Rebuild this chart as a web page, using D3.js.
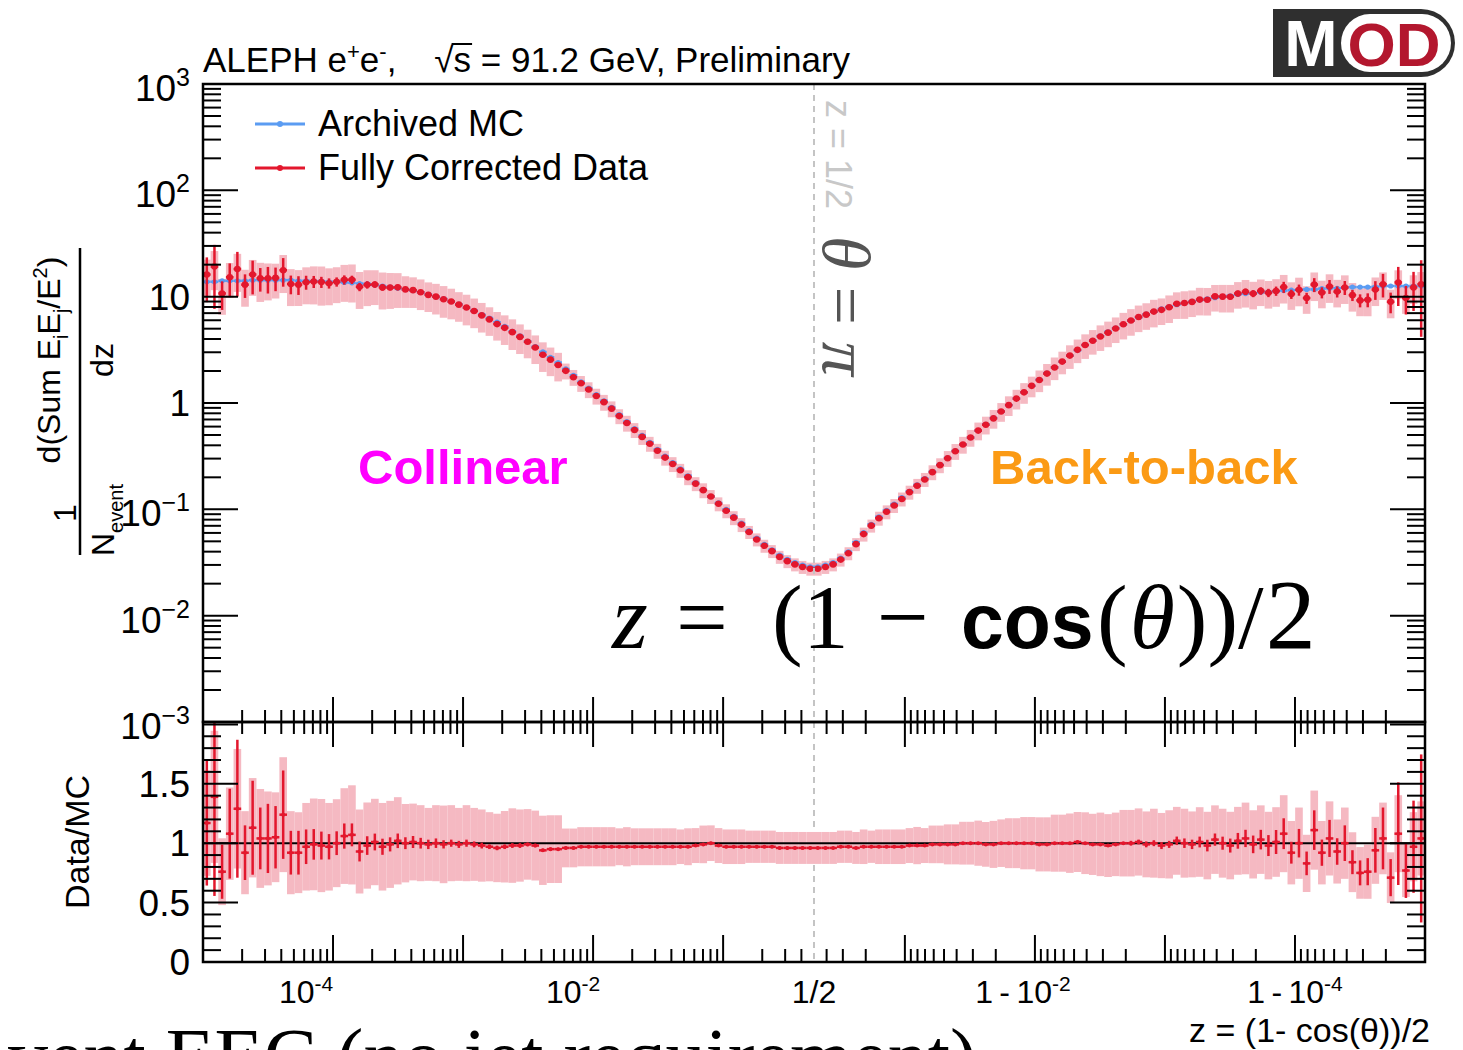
<!DOCTYPE html>
<html>
<head>
<meta charset="utf-8">
<script src="https://cdn.jsdelivr.net/npm/d3@7"></script>
<style>
  body { margin: 0; background: #ffffff; }
</style>
</head>
<body>
<svg id="chart" width="1463" height="1050"></svg>
<script>
////////////////////////////////////////////////////////////////////////
// Data.
// 80 log-spaced bins per half.
// Left half: z from 1e-5 up to 1/2.  Right half: 1 - z from 1/2 down to 1e-5.

// Archived MC, (1/N) dSum/dz
let mcLeft = [
  13.8, 13.8, 14.1, 14.1, 14.1, 14.1, 14.3, 14.3, 14.3, 14.3,
  14.3, 14.3, 14.1, 14.1, 14.0, 14.0, 13.8, 13.8, 13.6, 13.5,
  13.3, 13.2, 12.9, 12.6, 12.3, 12.0, 11.7, 11.4, 11.0, 10.5,
  10.0, 9.55, 9.0, 8.5, 7.9, 7.4, 6.8, 6.3, 5.75, 5.25,
  4.73, 4.27, 3.80, 3.39, 3.02, 2.69, 2.40, 2.09, 1.82, 1.58,
  1.38, 1.20, 1.05, 0.912, 0.776, 0.668, 0.575, 0.495, 0.427, 0.367,
  0.316, 0.275, 0.240, 0.207, 0.178, 0.153, 0.132, 0.115, 0.100, 0.0861,
  0.0741, 0.0631, 0.0537, 0.0468, 0.0417, 0.0372, 0.0339, 0.0316, 0.0299, 0.0288
];
let mcRight = [
  0.0288, 0.0299, 0.0316, 0.0347, 0.0398, 0.0490, 0.0603, 0.0724, 0.0851, 0.0977,
  0.112, 0.129, 0.148, 0.170, 0.195, 0.226, 0.263, 0.305, 0.355, 0.407,
  0.473, 0.550, 0.631, 0.724, 0.832, 0.955, 1.10, 1.26, 1.45, 1.66,
  1.91, 2.16, 2.45, 2.79, 3.13, 3.51, 3.89, 4.27, 4.68, 5.07,
  5.50, 5.96, 6.38, 6.84, 7.24, 7.67, 8.04, 8.41, 8.71, 9.02,
  9.29, 9.55, 9.77, 10.0, 10.2, 10.5, 10.7, 10.8, 11.0, 11.1,
  11.2, 11.4, 11.5, 11.6, 11.7, 11.7, 11.9, 12.0, 12.0, 12.2,
  12.3, 12.3, 12.3, 12.4, 12.6, 12.6, 12.6, 12.6, 12.6, 12.6
];

// Fully corrected data / archived MC
let ratioLeft = [
  1.17, 1.39, 0.76, 1.08, 1.29, 0.92, 1.13, 1.04, 1.04, 1.05,
  1.24, 0.92, 0.92, 0.97, 0.99, 0.98, 0.97, 1.00, 1.06, 1.07,
  0.93, 0.98, 1.01, 0.97, 0.99, 1.02, 1.00, 1.01, 1.00, 0.99,
  1.00, 0.99, 1.00, 0.99, 1.00, 0.99, 0.98, 0.97, 0.96, 0.97,
  0.98, 0.98, 0.99, 0.98, 0.94, 0.95, 0.95, 0.96, 0.96, 0.97,
  0.97, 0.97, 0.97, 0.97, 0.97, 0.97, 0.97, 0.97, 0.97, 0.97,
  0.97, 0.97, 0.97, 0.97, 0.98, 0.99, 1.00, 0.98, 0.97, 0.97,
  0.97, 0.97, 0.97, 0.97, 0.97, 0.96, 0.96, 0.96, 0.96, 0.96
];
let ratioRight = [
  0.96, 0.96, 0.96, 0.97, 0.97, 0.96, 0.97, 0.97, 0.97, 0.97,
  0.97, 0.97, 0.98, 0.98, 0.98, 0.99, 0.99, 0.99, 0.99, 1.00,
  1.00, 1.00, 0.99, 0.99, 1.00, 1.00, 1.00, 1.00, 1.00, 0.99,
  0.99, 1.00, 1.00, 1.00, 1.01, 1.00, 0.99, 0.99, 0.98, 0.99,
  1.00, 1.00, 1.01, 0.99, 1.00, 0.98, 0.99, 1.02, 1.00, 0.99,
  1.01, 0.98, 1.03, 1.00, 0.98, 1.02, 1.04, 0.99, 1.03, 0.98,
  1.01, 1.08, 0.92, 1.00, 0.83, 1.11, 0.92, 1.04, 0.93, 1.00,
  0.84, 0.75, 0.76, 0.94, 1.04, 0.71, 1.08, 0.77, 0.97, 1.04
];

// relative statistical uncertainty (red bars)
let statLeft = [
  0.45, 0.60, 0.30, 0.35, 0.45, 0.25, 0.35, 0.25, 0.28, 0.25,
  0.30, 0.20, 0.20, 0.15, 0.13, 0.12, 0.11, 0.10, 0.10, 0.09,
  0.09, 0.08, 0.07, 0.07, 0.06, 0.06, 0.05, 0.05, 0.045, 0.04,
  0.04, 0.035, 0.03, 0.03, 0.03, 0.025, 0.025, 0.02, 0.02, 0.02,
  0.02, 0.02, 0.015, 0.015, 0.015, 0.015, 0.012, 0.012, 0.012, 0.012,
  0.012, 0.012, 0.012, 0.012, 0.012, 0.012, 0.012, 0.012, 0.012, 0.012,
  0.012, 0.012, 0.012, 0.012, 0.012, 0.012, 0.012, 0.012, 0.012, 0.012,
  0.012, 0.012, 0.012, 0.012, 0.012, 0.012, 0.012, 0.012, 0.012, 0.012
];
let statRight = [
  0.01, 0.01, 0.01, 0.01, 0.01, 0.01, 0.01, 0.01, 0.01, 0.01,
  0.01, 0.01, 0.01, 0.01, 0.01, 0.01, 0.01, 0.01, 0.01, 0.01,
  0.01, 0.01, 0.01, 0.01, 0.01, 0.01, 0.01, 0.01, 0.01, 0.01,
  0.01, 0.01, 0.01, 0.01, 0.01, 0.01, 0.01, 0.01, 0.01, 0.01,
  0.01, 0.02, 0.02, 0.025, 0.025, 0.03, 0.03, 0.035, 0.04, 0.04,
  0.045, 0.05, 0.05, 0.055, 0.06, 0.065, 0.07, 0.075, 0.08, 0.09,
  0.10, 0.12, 0.10, 0.12, 0.12, 0.15, 0.12, 0.15, 0.12, 0.15,
  0.12, 0.14, 0.15, 0.20, 0.25, 0.22, 0.40, 0.30, 0.40, 0.68
];

// relative systematic uncertainty (pink boxes)
let sysLeft = [
  0.38, 0.40, 0.37, 0.36, 0.39, 0.38, 0.37, 0.40, 0.38, 0.36,
  0.39, 0.38, 0.37, 0.38, 0.39, 0.40, 0.38, 0.37, 0.38, 0.39,
  0.38, 0.37, 0.36, 0.38, 0.37, 0.36, 0.33, 0.32, 0.32, 0.31,
  0.32, 0.33, 0.32, 0.31, 0.32, 0.31, 0.31, 0.30, 0.30, 0.31,
  0.32, 0.31, 0.30, 0.30, 0.31, 0.30, 0.30, 0.17, 0.17, 0.17,
  0.17, 0.17, 0.17, 0.17, 0.16, 0.17, 0.16, 0.16, 0.16, 0.16,
  0.16, 0.16, 0.15, 0.16, 0.15, 0.16, 0.15, 0.15, 0.15, 0.15,
  0.15, 0.14, 0.14, 0.14, 0.14, 0.14, 0.14, 0.14, 0.14, 0.14
];
let sysRight = [
  0.14, 0.14, 0.14, 0.14, 0.14, 0.14, 0.15, 0.14, 0.15, 0.15,
  0.15, 0.15, 0.15, 0.16, 0.15, 0.16, 0.16, 0.17, 0.17, 0.18,
  0.18, 0.19, 0.19, 0.20, 0.20, 0.21, 0.21, 0.22, 0.22, 0.23,
  0.23, 0.24, 0.24, 0.25, 0.25, 0.26, 0.26, 0.27, 0.27, 0.27,
  0.28, 0.28, 0.28, 0.28, 0.29, 0.28, 0.29, 0.28, 0.29, 0.28,
  0.29, 0.29, 0.28, 0.29, 0.29, 0.28, 0.29, 0.29, 0.28, 0.29,
  0.29, 0.30, 0.29, 0.30, 0.29, 0.30, 0.29, 0.30, 0.29, 0.30,
  0.30, 0.29, 0.30, 0.30, 0.29, 0.30, 0.30, 0.29, 0.30, 0.30
];

// axis labels
let yMainLabelVals = [1e-3, 1e-2, 1e-1, 1, 10, 1e2, 1e3];
let yMainLabelText = [["10", "\u22123"], ["10", "\u22122"], ["10", "\u22121"], ["1", ""], ["10", ""], ["10", "2"], ["10", "3"]];
let ratioLabelVals = [0, 0.5, 1, 1.5];
let ratioLabelText = ["0", "0.5", "1", "1.5"];
let xLabelVals = [1e-4, 1e-2, 0.5, 1 - 1e-2, 1 - 1e-4];
let xLabelText = [["10", "-4"], ["10", "-2"], ["1/2", ""], ["1\u2009-\u200910", "-2"], ["1\u2009-\u200910", "-4"]];

////////////////////////////////////////////////////////////////////////
// Layout and scales

let frameL = 203, frameR = 1425, frameMid = 814;
let mainTop = 84, mainBot = 722, ratioBot = 962;
let zMin = 1e-5;

let sans = "'Liberation Sans', Arial, Helvetica, sans-serif";
let serif = "'Liberation Serif', 'Times New Roman', serif";
let red = "#e3172d", blue = "#5b9cf2", pink = "#f5b9c2";

// the z axis is log in z on the left and log in (1 - z) on the right
let xLeft = d3.scaleLog().domain([zMin, 0.5]).range([frameL, frameMid]);
let xRight = d3.scaleLog().domain([0.5, zMin]).range([frameMid, frameR]);   // takes 1 - z
function xPos(z) {
  return z <= 0.5 ? xLeft(z) : xRight(1 - z);
}
let yMain = d3.scaleLog().domain([1e-3, 1e3]).range([mainBot, mainTop]);
let yRatio = d3.scaleLinear().domain([0, 2.02]).range([ratioBot, mainBot]);

let svg = d3.select("#chart");

// Build the bins from the arrays
let nBins = mcLeft.length;
let edges = d3.range(nBins + 1).map(k => zMin * Math.pow(0.5 / zMin, k / nBins));
let bins = [];
mcLeft.forEach(function(mc, i) {
  let a = edges[i], b = edges[i + 1];
  bins.push({x0: xLeft(a), x1: xLeft(b), xc: xLeft(Math.sqrt(a * b)),
    mc: mc, ratio: ratioLeft[i], stat: statLeft[i], sys: sysLeft[i]});
});
mcRight.forEach(function(mc, j) {
  let a = edges[nBins - j], b = edges[nBins - j - 1];
  bins.push({x0: xRight(a), x1: xRight(b), xc: xRight(Math.sqrt(a * b)),
    mc: mc, ratio: ratioRight[j], stat: statRight[j], sys: sysRight[j]});
});
bins.forEach(function(d) { d.data = d.mc * d.ratio; });

let defs = svg.append("defs");
defs.append("clipPath").attr("id", "clipMain").append("rect")
  .attr("x", frameL).attr("y", mainTop).attr("width", frameR - frameL).attr("height", mainBot - mainTop);
defs.append("clipPath").attr("id", "clipRatio").append("rect")
  .attr("x", frameL).attr("y", mainBot).attr("width", frameR - frameL).attr("height", ratioBot - mainBot);

////////////////////////////////////////////////////////////////////////
// Main panel

let main = svg.append("g").attr("clip-path", "url(#clipMain)");

main.selectAll(".sys").data(bins).enter().append("rect")
  .attr("x", d => d.x0).attr("width", d => d.x1 - d.x0)
  .attr("y", d => yMain(d.data * (1 + d.sys)))
  .attr("height", d => yMain(d.data * (1 - d.sys)) - yMain(d.data * (1 + d.sys)))
  .attr("fill", pink);

// z = 1/2 marker line
svg.append("line")
  .attr("x1", xPos(0.5)).attr("x2", xPos(0.5))
  .attr("y1", mainTop).attr("y2", ratioBot)
  .attr("stroke", "#c4c4c4").attr("stroke-width", 2).attr("stroke-dasharray", "6,5");

// archived MC
main.selectAll(".mcbar").data(bins).enter().append("line")
  .attr("x1", d => d.x0).attr("x2", d => d.x1)
  .attr("y1", d => yMain(d.mc)).attr("y2", d => yMain(d.mc))
  .attr("stroke", blue).attr("stroke-width", 2.5);
main.selectAll(".mcdot").data(bins).enter().append("circle")
  .attr("cx", d => d.xc).attr("cy", d => yMain(d.mc)).attr("r", 2.6)
  .attr("fill", blue);

// fully corrected data
main.selectAll(".err").data(bins).enter().append("line")
  .attr("x1", d => d.xc).attr("x2", d => d.xc)
  .attr("y1", d => yMain(d.data * (1 + d.stat))).attr("y2", d => yMain(d.data * (1 - d.stat)))
  .attr("stroke", red).attr("stroke-width", 2.5);
main.selectAll(".dbar").data(bins).enter().append("line")
  .attr("x1", d => d.x0).attr("x2", d => d.x1)
  .attr("y1", d => yMain(d.data)).attr("y2", d => yMain(d.data))
  .attr("stroke", red).attr("stroke-width", 2.5);
main.selectAll(".ddot").data(bins).enter().append("circle")
  .attr("cx", d => d.xc).attr("cy", d => yMain(d.data)).attr("r", 3.3)
  .attr("fill", red);

////////////////////////////////////////////////////////////////////////
// Ratio panel

let rat = svg.append("g").attr("clip-path", "url(#clipRatio)");

rat.selectAll(".rsys").data(bins).enter().append("rect")
  .attr("x", d => d.x0).attr("width", d => d.x1 - d.x0)
  .attr("y", d => yRatio(d.ratio * (1 + d.sys)))
  .attr("height", d => yRatio(d.ratio * (1 - d.sys)) - yRatio(d.ratio * (1 + d.sys)))
  .attr("fill", pink);

rat.append("line")
  .attr("x1", frameL).attr("x2", frameR)
  .attr("y1", yRatio(1)).attr("y2", yRatio(1))
  .attr("stroke", "#000").attr("stroke-width", 2);

rat.selectAll(".rerr").data(bins).enter().append("line")
  .attr("x1", d => d.xc).attr("x2", d => d.xc)
  .attr("y1", d => yRatio(d.ratio * (1 + d.stat))).attr("y2", d => yRatio(d.ratio * (1 - d.stat)))
  .attr("stroke", red).attr("stroke-width", 2.5);
rat.selectAll(".rbar").data(bins).enter().append("line")
  .attr("x1", d => d.x0).attr("x2", d => d.x1)
  .attr("y1", d => yRatio(d.ratio)).attr("y2", d => yRatio(d.ratio))
  .attr("stroke", red).attr("stroke-width", 2.5);
rat.selectAll(".rdot").data(bins).enter().append("circle")
  .attr("cx", d => d.xc).attr("cy", d => yRatio(d.ratio)).attr("r", 2)
  .attr("fill", red);

////////////////////////////////////////////////////////////////////////
// Frames and ticks

[[mainTop, mainBot], [mainBot, ratioBot]].forEach(function(p) {
  svg.append("rect")
    .attr("x", frameL).attr("y", p[0]).attr("width", frameR - frameL).attr("height", p[1] - p[0])
    .attr("fill", "none").attr("stroke", "#000").attr("stroke-width", 2.5);
});

// log ticks m*10^k strictly inside (lo, hi)
function logTicks(lo, hi) {
  let t = [];
  for (let k = -6; k <= 3; k++) {
    for (let m = 1; m <= 9; m++) {
      let v = m * Math.pow(10, k);
      if (v > lo * 1.0001 && v < hi * 0.9999) t.push({v: v, major: m === 1});
    }
  }
  return t;
}

let xTicks = logTicks(zMin, 0.5).map(t => ({x: xLeft(t.v), major: t.major}))
  .concat(logTicks(zMin, 0.5).map(t => ({x: xRight(t.v), major: t.major})));

function xTickLines(y, dir, majorLen, minorLen) {
  svg.append("g").selectAll("line").data(xTicks).enter().append("line")
    .attr("x1", d => d.x).attr("x2", d => d.x)
    .attr("y1", y).attr("y2", d => y + dir * (d.major ? majorLen : minorLen))
    .attr("stroke", "#000").attr("stroke-width", 2);
}
xTickLines(mainBot, -1, 25, 12);
xTickLines(mainBot, 1, 25, 12);
xTickLines(ratioBot, -1, 27, 13);

let yTicks = logTicks(1e-3, 1e3).concat([{v: 1e-3, major: true}, {v: 1e3, major: true}]);
let ratioTicks = d3.range(1, 21).map(k => ({v: k / 10, major: k % 5 === 0}));

function yTickLines(list, scale) {
  [[frameL, 1], [frameR, -1]].forEach(function(side) {
    svg.append("g").selectAll("line").data(list).enter().append("line")
      .attr("x1", side[0]).attr("x2", d => side[0] + side[1] * (d.major ? 35 : 18))
      .attr("y1", d => scale(d.v)).attr("y2", d => scale(d.v))
      .attr("stroke", "#000").attr("stroke-width", 2);
  });
}
yTickLines(yTicks, yMain);
yTickLines(ratioTicks, yRatio);

////////////////////////////////////////////////////////////////////////
// Tick labels

yMainLabelVals.forEach(function(v, i) {
  let lab = yMainLabelText[i];
  let t = svg.append("text")
    .attr("x", 190).attr("y", yMain(v) + 13 + (lab[1] ? 4 : 0))
    .attr("text-anchor", "end").attr("font-family", sans).attr("font-size", 37);
  t.append("tspan").text(lab[0]);
  if (lab[1]) t.append("tspan").attr("dy", -15).attr("font-size", 25).text(lab[1]);
});

ratioLabelVals.forEach(function(v, i) {
  svg.append("text")
    .attr("x", 190).attr("y", yRatio(v) + 13)
    .attr("text-anchor", "end").attr("font-family", sans).attr("font-size", 37)
    .text(ratioLabelText[i]);
});

// the z labels sit a little left of their ticks on the collinear side
let xLabelShift = [-27, -20, 0, -12, 0];
xLabelVals.forEach(function(v, i) {
  let lab = xLabelText[i];
  let t = svg.append("text")
    .attr("x", xPos(v) + xLabelShift[i]).attr("y", 1003)
    .attr("text-anchor", "middle").attr("font-family", sans).attr("font-size", 32);
  t.append("tspan").text(lab[0]);
  if (lab[1]) t.append("tspan").attr("dy", -12).attr("font-size", 21).text(lab[1]);
});

////////////////////////////////////////////////////////////////////////
// Titles

// header
let head = svg.append("text").attr("x", 203).attr("y", 72)
  .attr("font-family", sans).attr("font-size", 35);
head.append("tspan").text("ALEPH e");
head.append("tspan").attr("dy", -13).attr("font-size", 22).text("+");
head.append("tspan").attr("dy", 13).text("e");
head.append("tspan").attr("dy", -13).attr("font-size", 22).text("-");
head.append("tspan").attr("dy", 13).text(",");
head.append("tspan").attr("dx", 38).text("\u221A");
let sTsp = head.append("tspan").text("s");
head.append("tspan").text(" = 91.2 GeV, Preliminary");
let sBox = sTsp.node().getBBox();
svg.append("line")
  .attr("x1", sBox.x - 2).attr("x2", sBox.x + sBox.width + 1)
  .attr("y1", sBox.y + 4).attr("y2", sBox.y + 4)
  .attr("stroke", "#000").attr("stroke-width", 2);

// y-axis title: 1/N_event d(Sum E_iE_j/E^2)/dz
svg.append("line").attr("x1", 80).attr("x2", 80).attr("y1", 248).attr("y2", 555)
  .attr("stroke", "#000").attr("stroke-width", 2.5);
let num = svg.append("text").attr("transform", "translate(60,360) rotate(-90)")
  .attr("text-anchor", "middle").attr("font-family", sans).attr("font-size", 32);
num.append("tspan").text("d(Sum E");
num.append("tspan").attr("dy", 8).attr("font-size", 20).text("i");
num.append("tspan").attr("dy", -8).text("E");
num.append("tspan").attr("dy", 8).attr("font-size", 20).text("j");
num.append("tspan").attr("dy", -8).text("/E");
num.append("tspan").attr("dy", -13).attr("font-size", 20).text("2");
num.append("tspan").attr("dy", 13).text(")");
svg.append("text").attr("transform", "translate(113,360) rotate(-90)")
  .attr("text-anchor", "middle").attr("font-family", sans).attr("font-size", 32).text("dz");
svg.append("text").attr("transform", "translate(76,513) rotate(-90)")
  .attr("text-anchor", "middle").attr("font-family", sans).attr("font-size", 32).text("1");
let den = svg.append("text").attr("transform", "translate(114,556) rotate(-90)")
  .attr("font-family", sans).attr("font-size", 32);
den.append("tspan").text("N");
den.append("tspan").attr("dy", 9).attr("font-size", 20).text("event");

svg.append("text").attr("transform", "translate(89,842) rotate(-90)")
  .attr("text-anchor", "middle").attr("font-family", sans).attr("font-size", 34).text("Data/MC");

// x-axis title
svg.append("text").attr("x", 1430).attr("y", 1042)
  .attr("text-anchor", "end").attr("font-family", sans).attr("font-size", 34)
  .text("z = (1- cos(\u03B8))/2");

// legend
let legend = [["Archived MC", blue, 124], ["Fully Corrected Data", red, 168]];
legend.forEach(function(l) {
  svg.append("line").attr("x1", 255).attr("x2", 305).attr("y1", l[2]).attr("y2", l[2])
    .attr("stroke", l[1]).attr("stroke-width", 3);
  svg.append("circle").attr("cx", 280).attr("cy", l[2]).attr("r", 3).attr("fill", l[1]);
  svg.append("text").attr("x", 318).attr("y", l[2] + 12)
    .attr("font-family", sans).attr("font-size", 36).text(l[0]);
});

// region annotations
svg.append("text").attr("x", 358).attr("y", 484)
  .attr("font-family", sans).attr("font-weight", "bold").attr("font-size", 49)
  .attr("fill", "#ff00ff").text("Collinear");
svg.append("text").attr("x", 990).attr("y", 484)
  .attr("font-family", sans).attr("font-weight", "bold").attr("font-size", 49)
  .attr("fill", "#fb9a14").text("Back-to-back");

// vertical notes along z = 1/2
svg.append("text").attr("transform", "translate(826,100) rotate(90)")
  .attr("font-family", sans).attr("font-size", 36).attr("fill", "#c8c8c8").text("z = 1/2");
let th = svg.append("text").attr("transform", "translate(823,236) rotate(90)")
  .attr("font-family", serif).attr("font-size", 68).attr("fill", "#555");
th.append("tspan").attr("font-style", "italic").text("\u03B8");
th.append("tspan").text(" = ");
th.append("tspan").attr("font-style", "italic").text("\u03C0");

// big formula
let fm = svg.append("text").attr("y", 648).attr("font-family", serif).attr("font-size", 92);
fm.append("tspan").attr("x", 612).attr("font-style", "italic").text("z");
fm.append("tspan").attr("x", 676).text("=");
fm.append("tspan").attr("x", 772).text("(1");
fm.append("tspan").attr("x", 877).text("\u2212");
fm.append("tspan").attr("x", 961).attr("font-family", sans).attr("font-weight", "bold").attr("font-size", 77).text("cos");
fm.append("tspan").attr("x", 1097).text("(");
fm.append("tspan").attr("dx", 2).attr("font-style", "italic").text("\u03B8");
fm.append("tspan").attr("dx", 2).text("))/");
fm.append("tspan").attr("dx", 2).attr("font-size", 100).text("2");

// bottom caption, cut off by the page edge
svg.append("text").attr("x", 8).attr("y", 1084)
  .attr("font-family", serif).attr("font-size", 80).text("vent EEC (no jet requirement)");

// MOD logo
let logo = svg.append("g");
logo.append("path").attr("d", "M1273,9 H1421 A34,34 0 0 1 1421,77 H1273 Z").attr("fill", "#2f2f2f");
logo.append("rect").attr("x", 1341).attr("y", 14).attr("width", 110).attr("height", 58).attr("rx", 29)
  .attr("fill", "#fff");
logo.append("text").attr("x", 1311).attr("y", 66).attr("text-anchor", "middle")
  .attr("font-family", sans).attr("font-weight", "bold").attr("font-size", 64).attr("fill", "#fff").text("M");
logo.append("text").attr("x", 1394).attr("y", 66).attr("text-anchor", "middle")
  .attr("font-family", sans).attr("font-weight", "bold").attr("font-size", 62).attr("fill", "#b3172e").text("OD");
</script>
</body>
</html>
